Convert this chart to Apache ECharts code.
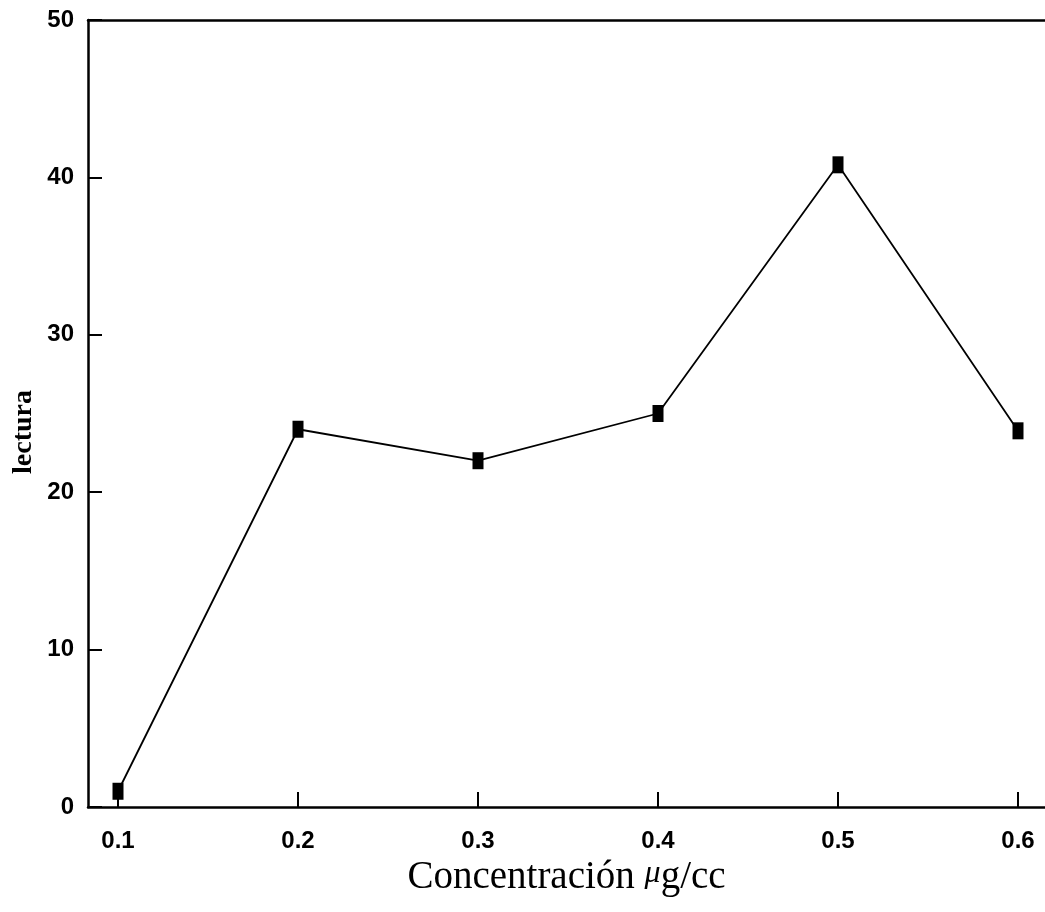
<!DOCTYPE html>
<html>
<head>
<meta charset="utf-8">
<script src="https://cdn.jsdelivr.net/npm/echarts@6/dist/echarts.min.js"></script>
<style>
html,body{margin:0;padding:0;background:#fff;}
#chart{width:1045px;height:912px;}
</style>
</head>
<body>
<div id="chart"></div>
<script>
const concentrations = [0.1, 0.2, 0.3, 0.4, 0.5, 0.6];
const lectura = [1.0, 24.0, 22.0, 25.0, 40.8, 23.9];
const xTicks = [0.1, 0.2, 0.3, 0.4, 0.5, 0.6];
const yTicks = [0, 10, 20, 30, 40, 50];
const yTitle = 'lectura';

const chart = echarts.init(document.getElementById('chart'), null, {renderer: 'canvas'});
const tickFont = {color: '#000', fontFamily: 'Liberation Sans, Arial, sans-serif', fontWeight: 'bold', fontSize: 24};

chart.setOption({
  animation: false,
  backgroundColor: '#fff',
  grid: {left: 88, top: 20, right: 0, bottom: 105, containLabel: false},
  xAxis: [{
    type: 'value',
    min: 0.08333,
    max: 0.615,
    position: 'bottom',
    axisLine: {show: true, onZero: false, lineStyle: {color: '#000', width: 2.5}},
    axisTick: {show: true, inside: true, length: 15, customValues: xTicks, lineStyle: {color: '#000', width: 2}},
    axisLabel: Object.assign({margin: 22, customValues: xTicks, formatter: v => v.toFixed(1)}, tickFont),
    splitLine: {show: false},
    name: '{a|Concentración }{mu|μ}{a|g/cc}',
    nameLocation: 'middle',
    nameGap: 50,
    nameTextStyle: {
      rich: {
        a: {fontFamily: 'Liberation Serif, Times New Roman, serif', fontSize: 39, color: '#000'},
        mu: {fontFamily: 'Liberation Serif, Times New Roman, serif', fontSize: 32, fontStyle: 'italic', color: '#000', verticalAlign: 'top'}
      }
    }
  }, {
    type: 'value',
    min: 0.08333,
    max: 0.615,
    position: 'top',
    axisLine: {show: true, onZero: false, lineStyle: {color: '#000', width: 2.5}},
    axisTick: {show: false},
    axisLabel: {show: false},
    splitLine: {show: false}
  }],
  yAxis: {
    type: 'value',
    min: 0,
    max: 50,
    interval: 10,
    axisLine: {show: true, onZero: false, lineStyle: {color: '#000', width: 2.5}},
    axisTick: {show: true, inside: true, length: 14, lineStyle: {color: '#000', width: 2}},
    axisLabel: Object.assign({margin: 14, customValues: yTicks}, tickFont),
    splitLine: {show: false}
  },
  graphic: [{
    type: 'text',
    left: 10,
    top: 390,
    rotation: Math.PI / 2,
    originX: 0,
    originY: 0,
    style: {
      text: yTitle,
      fill: '#000',
      font: 'bold 28px "Liberation Serif", "Times New Roman", serif'
    }
  }],
  series: [{
    type: 'line',
    xAxisIndex: 0,
    data: concentrations.map((c, i) => [c, lectura[i]]),
    symbol: 'rect',
    symbolSize: [11, 17],
    showAllSymbol: true,
    lineStyle: {color: '#000', width: 1.8},
    itemStyle: {color: '#000'}
  }]
});
</script>
</body>
</html>
